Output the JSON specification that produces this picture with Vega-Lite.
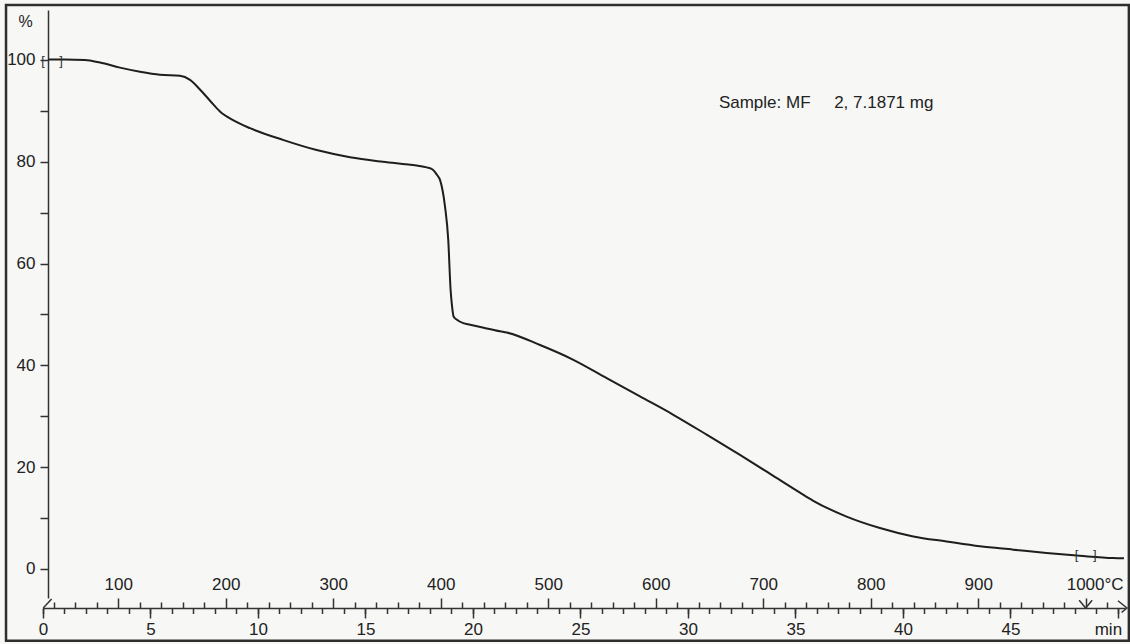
{
  "$schema": "https://vega.github.io/schema/vega-lite/v6.json",
  "width": 1082,
  "height": 588,
  "autosize": {"type": "none"},
  "padding": {"left": 43, "top": 10, "right": 5, "bottom": 46},
  "background": "#f7f7f5",
  "config": {
    "view": {"stroke": null},
    "font": "Liberation Sans",
    "axis": {"grid": false, "labelFont": "Liberation Sans", "titleFont": "Liberation Sans", "labelColor": "#222", "titleColor": "#222", "tickColor": "#333", "domainColor": "#333"}
  },
  "datasets": {
    "curve": [
      {"t": 0.25, "w": 100.1}, {"t": 1.0, "w": 100.1}, {"t": 1.95, "w": 100.0}, {"t": 2.65, "w": 99.5},
      {"t": 3.58, "w": 98.5}, {"t": 4.51, "w": 97.7}, {"t": 5.44, "w": 97.1}, {"t": 6.37, "w": 96.9},
      {"t": 6.84, "w": 96.1}, {"t": 7.3, "w": 94.2}, {"t": 7.77, "w": 92.0}, {"t": 8.23, "w": 89.9},
      {"t": 8.84, "w": 88.2}, {"t": 9.63, "w": 86.6}, {"t": 11.16, "w": 84.3}, {"t": 12.73, "w": 82.3},
      {"t": 14.28, "w": 80.9}, {"t": 15.81, "w": 80.0}, {"t": 17.38, "w": 79.25}, {"t": 17.85, "w": 78.9},
      {"t": 18.15, "w": 78.4}, {"t": 18.33, "w": 77.4}, {"t": 18.47, "w": 76.4}, {"t": 18.7, "w": 71.2},
      {"t": 18.85, "w": 64.7}, {"t": 18.96, "w": 54.8}, {"t": 19.03, "w": 51.5}, {"t": 19.1, "w": 49.6},
      {"t": 19.24, "w": 49.0}, {"t": 19.55, "w": 48.3}, {"t": 19.71, "w": 48.15}, {"t": 20.5, "w": 47.4},
      {"t": 21.26, "w": 46.7}, {"t": 21.57, "w": 46.45}, {"t": 23.12, "w": 44.0}, {"t": 24.67, "w": 41.1},
      {"t": 26.22, "w": 37.5}, {"t": 27.77, "w": 33.9}, {"t": 29.32, "w": 30.3}, {"t": 30.87, "w": 26.4},
      {"t": 32.42, "w": 22.4}, {"t": 33.97, "w": 18.3}, {"t": 35.21, "w": 15.0}, {"t": 35.83, "w": 13.4},
      {"t": 37.38, "w": 10.3}, {"t": 38.93, "w": 8.05}, {"t": 40.48, "w": 6.4}, {"t": 42.03, "w": 5.4},
      {"t": 43.58, "w": 4.45}, {"t": 45.13, "w": 3.8}, {"t": 46.68, "w": 3.15}, {"t": 48.23, "w": 2.6},
      {"t": 49.78, "w": 2.15}, {"t": 50.28, "w": 2.1}
    ],
    "marks": [{"t": 0.42, "w": 99.8}, {"t": 48.5, "w": 2.8}],
    "temps": [{"T": 1000}]
  },
  "resolve": {"scale": {"x": "independent"}, "axis": {"x": "independent", "y": "independent"}},
  "layer": [
    {
      "data": {"values": [{}]},
      "mark": {"type": "rect", "fill": "transparent", "stroke": "#2e2e2e", "strokeWidth": 2.5, "clip": false},
      "encoding": {
        "x": {"datum": -1.72, "type": "quantitative", "scale": {"domain": [0, 50.33], "nice": false, "zero": false}, "axis": null},
        "x2": {"datum": 50.51},
        "y": {"datum": 110.8, "type": "quantitative", "scale": {"domain": [-5.7, 109.82], "nice": false, "zero": false}, "axis": null},
        "y2": {"datum": -14.08}
      }
    },
    {
      "data": {"name": "curve"},
      "mark": {"type": "line", "color": "#1e1e1e", "strokeWidth": 2, "interpolate": "monotone"},
      "encoding": {
        "x": {
          "field": "t", "type": "quantitative",
          "scale": {"domain": [0, 50.33], "nice": false, "zero": false},
          "axis": {
            "orient": "bottom", "offset": 10, "values": [0, 5, 10, 15, 20, 25, 30, 35, 40, 45, 50],
            "tickSize": 10, "tickWidth": 1.5, "labelPadding": 3, "labelFontSize": 17,
            "labelExpr": "datum.value == 50 ? 'min' : datum.label",
            "labelOffset": {"condition": {"test": "datum.value == 50", "value": -10}, "value": 0},
            "labelFlush": false, "labelOverlap": false, "domainWidth": 1.5, "title": null
          }
        },
        "y": {
          "field": "w", "type": "quantitative",
          "scale": {"domain": [-5.7, 109.82], "nice": false, "zero": false},
          "axis": {
            "orient": "left", "offset": -5, "values": [0, 10, 20, 30, 40, 50, 60, 70, 80, 90, 100],
            "tickSize": 8, "tickWidth": 1.5, "labelPadding": 5, "labelFontSize": 17,
            "labelExpr": "datum.value % 20 == 0 ? datum.label : ''",
            "labelOverlap": false, "labelFlush": false, "domainWidth": 1.5,
            "title": "%", "titleAngle": 0, "titleX": -23, "titleY": 11, "titleFontSize": 16,
            "titleFontWeight": "normal", "titleAlign": "center", "titleBaseline": "middle"
          }
        }
      }
    },
    {
      "data": {"name": "marks"},
      "mark": {"type": "text", "text": "[\u00a0\u00a0\u00a0\u00a0]", "fontSize": 13, "color": "#333", "align": "center", "baseline": "middle"},
      "encoding": {
        "x": {
          "field": "t", "type": "quantitative",
          "scale": {"domain": [0, 50.33], "nice": false, "zero": false},
          "axis": {
            "orient": "bottom", "offset": 10,
            "values": [0,1,2,3,4,5,6,7,8,9,10,11,12,13,14,15,16,17,18,19,20,21,22,23,24,25,26,27,28,29,30,31,32,33,34,35,36,37,38,39,40,41,42,43,44,45,46,47,48,49,50],
            "tickSize": 5.5, "tickWidth": 1.5, "labels": false, "domain": false, "title": null
          }
        },
        "y": {"field": "w", "type": "quantitative", "axis": null}
      }
    },
    {
      "data": {"name": "temps"},
      "mark": {"type": "point", "shape": "M-1,-1.2L0,0L1,-1.2", "filled": false, "stroke": "#333", "strokeWidth": 1.5, "size": 169, "opacity": 1, "clip": false},
      "encoding": {
        "x": {
          "field": "T", "type": "quantitative",
          "scale": {"domain": [30, 1036.6], "nice": false, "zero": false},
          "axis": {
            "orient": "top", "offset": -598, "values": [100, 200, 300, 400, 500, 600, 700, 800, 900, 1000],
            "tickSize": 10, "tickWidth": 1.5, "labelPadding": 5, "labelFontSize": 17,
            "labelExpr": "datum.value == 1000 ? '1000°C' : datum.label",
            "labelOffset": {"condition": {"test": "datum.value == 1000", "value": 9}, "value": 0},
            "labelFlush": false, "labelOverlap": false, "domain": false, "title": null
          }
        },
        "y": {"datum": -7.66, "type": "quantitative", "axis": null}
      }
    },
    {
      "data": {"name": "temps"},
      "mark": {"type": "point", "opacity": 0},
      "encoding": {
        "x": {
          "field": "T", "type": "quantitative",
          "scale": {"domain": [30, 1036.6], "nice": false, "zero": false},
          "axis": {
            "orient": "top", "offset": -598,
            "values": [40,60,80,120,140,160,180,220,240,260,280,320,340,360,380,420,440,460,480,520,540,560,580,620,640,660,680,720,740,760,780,820,840,860,880,920,940,960,980,1020],
            "tickSize": 6, "tickWidth": 1.5, "labels": false, "domain": false, "title": null
          }
        },
        "y": {"datum": -7.66, "type": "quantitative", "axis": null}
      }
    },
    {
      "data": {"values": [{}]},
      "mark": {"type": "point", "shape": "M-1,-0.8L0,0L-0.6,0.5", "filled": false, "stroke": "#333", "strokeWidth": 1.5, "size": 324, "opacity": 1, "clip": false},
      "encoding": {
        "x": {"datum": 50.42, "type": "quantitative", "scale": {"domain": [0, 50.33], "nice": false, "zero": false}, "axis": null},
        "y": {"datum": -7.66, "type": "quantitative", "axis": null}
      }
    },
    {
      "data": {"values": [{}]},
      "mark": {"type": "rule", "stroke": "#333", "strokeWidth": 1.5, "clip": false},
      "encoding": {
        "x": {"datum": 0.01, "type": "quantitative", "scale": {"domain": [0, 50.33], "nice": false, "zero": false}, "axis": null},
        "x2": {"datum": 0.4},
        "y": {"datum": -7.66, "type": "quantitative", "axis": null},
        "y2": {"datum": -5.89}
      }
    },
    {
      "data": {"values": [{"label": "Sample: MF\u00a0\u00a0\u00a0\u00a0\u00a02, 7.1871 mg"}]},
      "mark": {"type": "text", "align": "left", "baseline": "middle", "fontSize": 17, "color": "#222"},
      "encoding": {
        "x": {"datum": 31.44, "type": "quantitative", "scale": {"domain": [0, 50.33], "nice": false, "zero": false}, "axis": null},
        "y": {"datum": 91.55, "type": "quantitative", "axis": null},
        "text": {"field": "label"}
      }
    }
  ]
}
